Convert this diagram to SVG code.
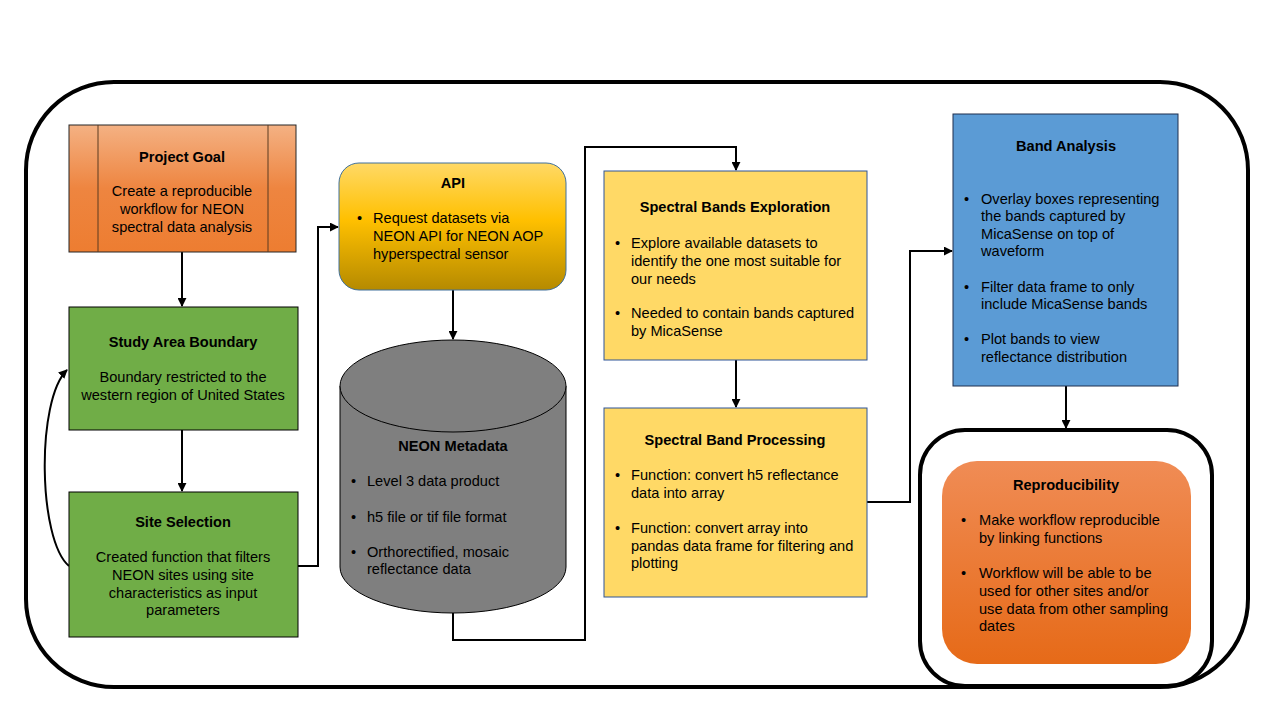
<svg xmlns="http://www.w3.org/2000/svg" width="1280" height="720" viewBox="0 0 1280 720">
<defs>
<linearGradient id="gOrange" x1="0" y1="0" x2="0" y2="1">
<stop offset="0" stop-color="#F4B183"/><stop offset="0.5" stop-color="#EE8540"/><stop offset="1" stop-color="#ED7D31"/>
</linearGradient>
<linearGradient id="gGold" x1="0" y1="0" x2="0" y2="1">
<stop offset="0" stop-color="#FFD966"/><stop offset="0.45" stop-color="#FFC000"/><stop offset="1" stop-color="#B58A00"/>
</linearGradient>
<linearGradient id="gRepro" x1="0" y1="0" x2="0" y2="1">
<stop offset="0" stop-color="#F08C55"/><stop offset="1" stop-color="#E66A18"/>
</linearGradient>
<marker id="arr" viewBox="0 0 10 10" refX="9" refY="5" markerWidth="4.5" markerHeight="4.5" orient="auto" markerUnits="strokeWidth">
<path d="M0,0 L10,5 L0,10 z" fill="#000"/>
</marker>
</defs>
<style>
text{font-family:"Liberation Sans",Arial,sans-serif;font-size:14.6px;fill:#000}
.t{font-weight:bold;text-anchor:middle}
.c{text-anchor:middle}
.conn{fill:none;stroke:#000;stroke-width:2}
</style>
<rect width="1280" height="720" fill="#fff"/>
<g id="frame">
<rect x="26" y="82" width="1222" height="605" rx="88" ry="88" fill="none" stroke="#000" stroke-width="4"/>
</g>
<g id="connectors">
<line class="conn" x1="182" y1="252" x2="182" y2="306" marker-end="url(#arr)"/>
<line class="conn" x1="182" y1="430" x2="182" y2="491" marker-end="url(#arr)"/>
<path class="conn" d="M69,566 C38,540 36,400 67,370" marker-end="url(#arr)"/>
<path class="conn" d="M298,566 H318 V227 H338" marker-end="url(#arr)"/>
<line class="conn" x1="453" y1="290" x2="453" y2="339" marker-end="url(#arr)"/>
<path class="conn" d="M453,612 V640 H585 V147 H736 V170" marker-end="url(#arr)"/>
<line class="conn" x1="736" y1="360" x2="736" y2="407" marker-end="url(#arr)"/>
<path class="conn" d="M867,502 H910 V251 H952" marker-end="url(#arr)"/>
<line class="conn" x1="1066" y1="386" x2="1066" y2="428" marker-end="url(#arr)"/>
</g>
<g id="project-goal">
<rect x="69" y="125" width="227" height="127" fill="url(#gOrange)" stroke="#262626" stroke-width="1"/>
<line x1="98" y1="125" x2="98" y2="252" stroke="#5a3a20" stroke-width="1"/>
<line x1="268" y1="125" x2="268" y2="252" stroke="#5a3a20" stroke-width="1"/>
<text class="t" x="182" y="162">Project Goal</text>
<text class="c" x="182" y="196">Create a reproducible</text>
<text class="c" x="182" y="214">workflow for NEON</text>
<text class="c" x="182" y="232">spectral data analysis</text>
</g>
<g id="study-area">
<rect x="69" y="307" width="229" height="123" fill="#70AD47" stroke="#000" stroke-width="1"/>
<text class="t" x="183" y="347">Study Area Boundary</text>
<text class="c" x="183" y="382">Boundary restricted to the</text>
<text class="c" x="183" y="400">western region of United States</text>
</g>
<g id="site-selection">
<rect x="69" y="492" width="229" height="145" fill="#70AD47" stroke="#000" stroke-width="1"/>
<text class="t" x="183" y="527">Site Selection</text>
<text class="c" x="183" y="562">Created function that filters</text>
<text class="c" x="183" y="580">NEON sites using site</text>
<text class="c" x="183" y="598">characteristics as input</text>
<text class="c" x="183" y="615">parameters</text>
</g>
<g id="api">
<rect x="339" y="163" width="227" height="127" rx="20" ry="20" fill="url(#gGold)" stroke="#41719C" stroke-width="1"/>
<text class="t" x="453" y="188">API</text>
<text x="357" y="223">•</text>
<text x="373" y="223">Request datasets via</text>
<text x="373" y="241">NEON API for NEON AOP</text>
<text x="373" y="259">hyperspectral sensor</text>
</g>
<g id="neon-metadata">
<path d="M340,386 V567 A113,46 0 0 0 566,567 V386" fill="#7F7F7F" stroke="#000" stroke-width="1"/>
<ellipse cx="453" cy="386" rx="113" ry="46" fill="#7F7F7F" stroke="#000" stroke-width="1"/>
<text class="t" x="453" y="451">NEON Metadata</text>
<text x="351" y="486">•</text>
<text x="367" y="486">Level 3 data product</text>
<text x="351" y="522">•</text>
<text x="367" y="522">h5 file or tif file format</text>
<text x="351" y="557">•</text>
<text x="367" y="557">Orthorectified, mosaic</text>
<text x="367" y="574">reflectance data</text>
</g>
<g id="spectral-exploration">
<rect x="604" y="171" width="263" height="189" fill="#FFD966" stroke="#2F5597" stroke-width="1"/>
<text class="t" x="735" y="212">Spectral Bands Exploration</text>
<text x="615" y="248">•</text>
<text x="631" y="248">Explore available datasets to</text>
<text x="631" y="266">identify the one most suitable for</text>
<text x="631" y="284">our needs</text>
<text x="615" y="318">•</text>
<text x="631" y="318">Needed to contain bands captured</text>
<text x="631" y="336">by MicaSense</text>
</g>
<g id="spectral-processing">
<rect x="604" y="408" width="263" height="189" fill="#FFD966" stroke="#2F5597" stroke-width="1"/>
<text class="t" x="735" y="445">Spectral Band Processing</text>
<text x="615" y="480">•</text>
<text x="631" y="480">Function: convert h5 reflectance</text>
<text x="631" y="498">data into array</text>
<text x="615" y="533">•</text>
<text x="631" y="533">Function: convert array into</text>
<text x="631" y="551">pandas data frame for filtering and</text>
<text x="631" y="568">plotting</text>
</g>
<g id="band-analysis">
<rect x="953" y="114" width="225" height="272" fill="#5B9BD5" stroke="#1F2F4F" stroke-width="1"/>
<text class="t" x="1066" y="151">Band Analysis</text>
<text x="964" y="204">•</text>
<text x="981" y="204">Overlay boxes representing</text>
<text x="981" y="221">the bands captured by</text>
<text x="981" y="239">MicaSense on top of</text>
<text x="981" y="256">waveform</text>
<text x="964" y="292">•</text>
<text x="981" y="292">Filter data frame to only</text>
<text x="981" y="309">include MicaSense bands</text>
<text x="964" y="344">•</text>
<text x="981" y="344">Plot bands to view</text>
<text x="981" y="362">reflectance distribution</text>
</g>
<g id="reproducibility">
<rect x="920" y="430" width="292" height="256" rx="45" ry="45" fill="#fff" stroke="#000" stroke-width="4"/>
<rect x="942" y="461" width="249" height="203" rx="35" ry="35" fill="url(#gRepro)"/>
<text class="t" x="1066" y="490">Reproducibility</text>
<text x="961" y="525">•</text>
<text x="979" y="525">Make workflow reproducible</text>
<text x="979" y="543">by linking functions</text>
<text x="961" y="578">•</text>
<text x="979" y="578">Workflow will be able to be</text>
<text x="979" y="596">used for other sites and/or</text>
<text x="979" y="614">use data from other sampling</text>
<text x="979" y="631">dates</text>
</g>
</svg>
